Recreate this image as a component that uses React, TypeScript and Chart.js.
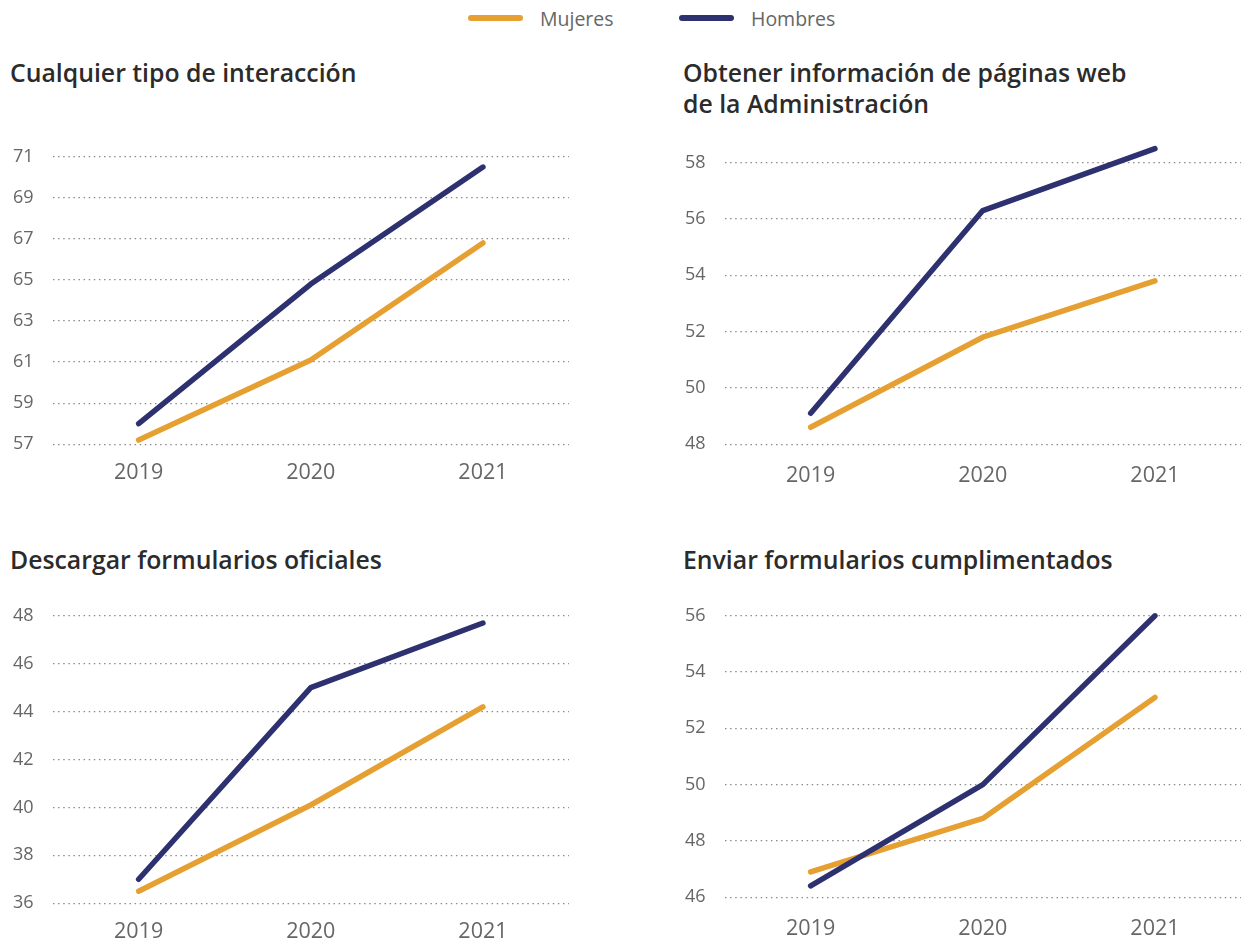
import React, { useEffect, useRef } from "react";
import { Chart, registerables } from "chart.js";

Chart.register(...registerables);

// ---- Data ----
const years = ["2019", "2020", "2021"];
const seriesNames = ["Mujeres", "Hombres"];
const seriesColors = ["#E6A031", "#2E3170"];

const titleInteraccion = ["Cualquier tipo de interacción"];
const interaccionMujeres = [57.2, 61.1, 66.8];
const interaccionHombres = [58.0, 64.8, 70.5];

const titleInfoWeb = ["Obtener información de páginas web", "de la Administración"];
const infoWebMujeres = [48.6, 51.8, 53.8];
const infoWebHombres = [49.1, 56.3, 58.5];

const titleDescargar = ["Descargar formularios oficiales"];
const descargarMujeres = [36.5, 40.1, 44.2];
const descargarHombres = [37.0, 45.0, 47.7];

const titleEnviar = ["Enviar formularios cumplimentados"];
const enviarMujeres = [46.9, 48.8, 53.1];
const enviarHombres = [46.4, 50.0, 56.0];

const FONT = "'Open Sans', Lato, sans-serif";

type PanelProps = {
  title: string[];
  mujeres: number[];
  hombres: number[];
  yMin: number;
  yMax: number;
  box: { left: number; top: number; width: number; height: number };
  pad: { left: number; right: number; top: number; bottom: number };
  titleLeft: number;
  titleTop: number;
  xPad: number;
};

function Panel(p: PanelProps) {
  const ref = useRef<HTMLCanvasElement | null>(null);
  useEffect(() => {
    if (!ref.current) return;
    const chart = new Chart(ref.current, {
      type: "line",
      data: {
        labels: years,
        datasets: [
          {
            label: seriesNames[1],
            data: p.hombres,
            borderColor: seriesColors[1],
            backgroundColor: seriesColors[1],
            borderWidth: 5.5,
            borderCapStyle: "round",
            borderJoinStyle: "round",
            pointRadius: 0,
            tension: 0,
            clip: false as any,
          },
          {
            label: seriesNames[0],
            data: p.mujeres,
            borderColor: seriesColors[0],
            backgroundColor: seriesColors[0],
            borderWidth: 5.5,
            borderCapStyle: "round",
            borderJoinStyle: "round",
            pointRadius: 0,
            tension: 0,
            clip: false as any,
          },
        ],
      },
      options: {
        animation: false,
        responsive: true,
        maintainAspectRatio: false,
        layout: { padding: p.pad },
        plugins: { legend: { display: false }, tooltip: { enabled: false } },
        scales: {
          x: {
            offset: true,
            grid: { display: false, drawTicks: false },
            border: { display: false },
            ticks: {
              color: "#666",
              font: { family: FONT, size: 21.5 },
              padding: p.xPad,
            },
          },
          y: {
            min: p.yMin,
            max: p.yMax,
            grid: { color: "#8c8c8c", lineWidth: 1.2, drawTicks: false },
            border: { display: false, dash: [1.5, 3.6] },
            afterBuildTicks: (scale: any) => {
              scale.ticks = scale.ticks.filter(
                (t: any) => Number.isInteger(t.value) && (t.value - p.yMin) % 2 === 0
              );
            },
            ticks: {
              stepSize: 2,
              includeBounds: false,
              color: "#666",
              font: { family: FONT, size: 18 },
              padding: 19,
            },
          },
        },
      },
    });
    return () => chart.destroy();
  }, []);

  return (
    <>
      <div
        style={{
          position: "absolute",
          left: p.titleLeft,
          top: p.titleTop,
          fontFamily: FONT,
          fontWeight: 600,
          fontSize: 24.8,
          lineHeight: "31px",
          color: "#2b2b2b",
          whiteSpace: "nowrap",
        }}
      >
        {p.title.map((t, i) => (
          <div key={i}>{t}</div>
        ))}
      </div>
      <div
        style={{
          position: "absolute",
          left: p.box.left,
          top: p.box.top,
          width: p.box.width,
          height: p.box.height,
        }}
      >
        <canvas ref={ref} />
      </div>
    </>
  );
}

function Legend() {
  const items = [
    { name: seriesNames[0], color: seriesColors[0], x: 468 },
    { name: seriesNames[1], color: seriesColors[1], x: 679 },
  ];
  return (
    <>
      {items.map((it) => (
        <div
          key={it.name}
          style={{
            position: "absolute",
            left: it.x,
            top: 5,
            height: 26,
            display: "flex",
            alignItems: "center",
            fontFamily: FONT,
            fontSize: 19.5,
            color: "#666",
          }}
        >
          <span
            style={{
              display: "inline-block",
              width: 55,
              height: 6,
              borderRadius: 3,
              background: it.color,
              marginRight: 17,
            }}
          />
          <span>{it.name}</span>
        </div>
      ))}
    </>
  );
}

export default function App() {
  return (
    <div
      style={{
        position: "absolute",
        left: 0,
        top: 0,
        width: 1246,
        height: 945,
        background: "#fff",
        overflow: "hidden",
      }}
    >
      <Legend />
      <Panel
        title={titleInteraccion}
        mujeres={interaccionMujeres}
        hombres={interaccionHombres}
        yMin={57}
        yMax={71}
        box={{ left: -6, top: 127, width: 579, height: 381 }}
        pad={{ left: 0, right: 4, top: 20, bottom: 6 }}
        titleLeft={10}
        titleTop={57}
        xPad={16}
      />
      <Panel
        title={titleInfoWeb}
        mujeres={infoWebMujeres}
        hombres={infoWebHombres}
        yMin={48}
        yMax={58.6}
        box={{ left: 666, top: 116, width: 579, height: 398 }}
        pad={{ left: 0, right: 4, top: 20, bottom: 6 }}
        titleLeft={683}
        titleTop={57}
        xPad={19}
      />
      <Panel
        title={titleDescargar}
        mujeres={descargarMujeres}
        hombres={descargarHombres}
        yMin={36}
        yMax={48}
        box={{ left: -6, top: 586, width: 579, height: 378 }}
        pad={{ left: 0, right: 4, top: 20, bottom: 3 }}
        titleLeft={10}
        titleTop={544}
        xPad={16}
      />
      <Panel
        title={titleEnviar}
        mujeres={enviarMujeres}
        hombres={enviarHombres}
        yMin={46}
        yMax={56}
        box={{ left: 666, top: 586, width: 579, height: 378 }}
        pad={{ left: 0, right: 4, top: 20, bottom: 3 }}
        titleLeft={683}
        titleTop={544}
        xPad={19}
      />
    </div>
  );
}
